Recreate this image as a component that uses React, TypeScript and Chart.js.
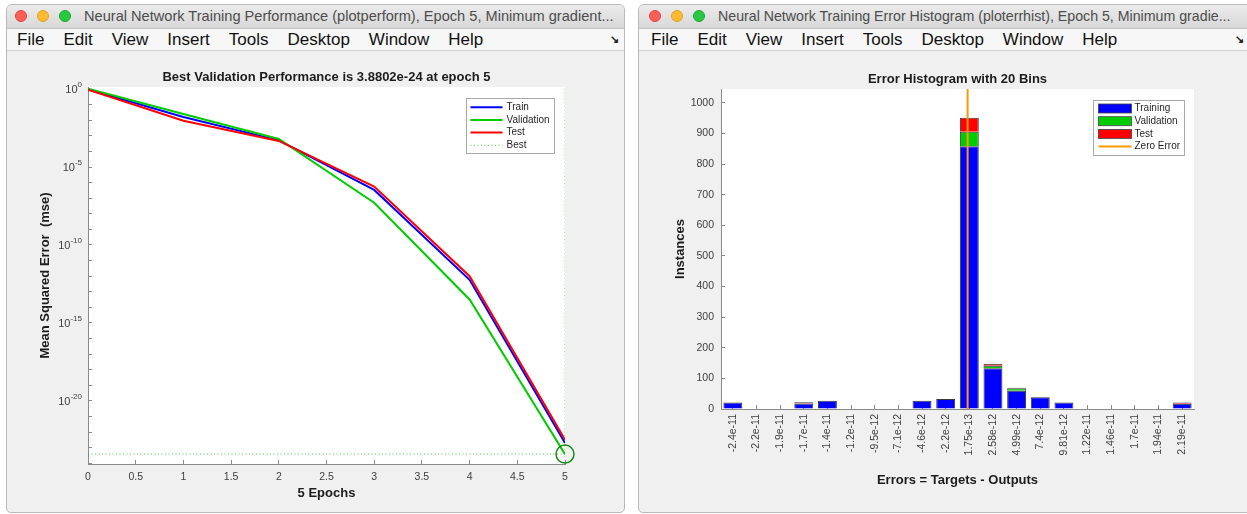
import React, { useEffect, useRef } from "react";
import { Chart, registerables } from "chart.js";

Chart.register(...registerables);

const FONT = '"Liberation Sans", Arial, Helvetica, sans-serif';

// ---------- Performance plot (left) ----------
const epochs = [0, 1, 2, 3, 4, 5];
const trainPerf = [0.93, 1.6e-2, 5.1e-4, 3.4e-7, 5.8e-13, 2.0e-23];
const validationPerf = [1.05, 2.5e-2, 6.3e-4, 5.1e-8, 3.2e-14, 3.8802e-24];
const testPerf = [0.9, 9.3e-3, 4.7e-4, 5.5e-7, 1.0e-12, 3.2e-23];
const bestEpoch = 5;
const bestPerf = 3.8802e-24;
const perfYMin = 9.0e-25;
const perfYMax = 1.35;
const perfXTicks = [0, 0.5, 1, 1.5, 2, 2.5, 3, 3.5, 4, 4.5, 5];
const perfYTickExponents = [0, -1, -2, -3, -4, -5, -6, -7, -8, -9, -10, -11, -12, -13, -14, -15, -16, -17, -18, -19, -20, -21, -22, -23, -24];
const perfYLabelExponents = [0, -5, -10, -15, -20];

// ---------- Error histogram (right) ----------
const binLabels = [
  "-2.4e-11", "-2.2e-11", "-1.9e-11", "-1.7e-11", "-1.4e-11", "-1.2e-11", "-9.5e-12", "-7.1e-12",
  "-4.6e-12", "-2.2e-12", "1.75e-13", "2.58e-12", "4.99e-12", "7.4e-12", "9.81e-12", "1.22e-11",
  "1.46e-11", "1.7e-11", "1.94e-11", "2.19e-11",
];
const binFirstCenter = -2.4e-11;
const binWidth = 2.4175e-12;
const trainingCounts = [21, 0, 0, 18, 27, 0, 0, 0, 27, 33, 858, 133, 60, 38, 21, 0, 0, 0, 0, 17];
const validationCounts = [0, 0, 0, 0, 0, 0, 0, 0, 0, 0, 47, 8, 8, 1, 0, 0, 0, 0, 0, 0];
const testCounts = [0, 0, 0, 4, 0, 0, 0, 0, 0, 0, 46, 7, 1, 0, 0, 0, 0, 0, 0, 4];
const zeroError = 0;
const histYMax = 1045;
const histYTicks = [0, 100, 200, 300, 400, 500, 600, 700, 800, 900, 1000];

type LegendItem = { label: string; kind: "line" | "dotted" | "patch"; color: string };
type LegendBox = {
  right: number; top: number; width: number; height: number;
  rowStart: number; rowStep: number; sampleX: number; sampleW: number; textX: number;
};

const whiteArea = {
  id: "whiteArea",
  beforeDraw(chart: any) {
    const { ctx, chartArea } = chart;
    ctx.save();
    ctx.fillStyle = "#ffffff";
    ctx.fillRect(chartArea.left, chartArea.top, chartArea.right - chartArea.left, chartArea.bottom - chartArea.top);
    ctx.restore();
  },
};

function makeBoxLegend(items: LegendItem[], box: LegendBox) {
  return {
    id: "boxLegend",
    afterDraw(chart: any) {
      const { ctx, chartArea } = chart;
      const x = Math.round(chartArea.right - box.right - box.width) + 0.5;
      const y = Math.round(chartArea.top + box.top) + 0.5;
      ctx.save();
      ctx.fillStyle = "#ffffff";
      ctx.fillRect(x, y, box.width, box.height);
      ctx.strokeStyle = "#a8a8a8";
      ctx.lineWidth = 1;
      ctx.setLineDash([]);
      ctx.strokeRect(x, y, box.width, box.height);
      items.forEach((it, i) => {
        const cy = y + box.rowStart + i * box.rowStep;
        const sx = x + box.sampleX;
        if (it.kind === "patch") {
          ctx.fillStyle = it.color;
          ctx.fillRect(sx, cy - 4.5, box.sampleW, 9);
          ctx.strokeStyle = "#444444";
          ctx.lineWidth = 0.8;
          ctx.strokeRect(sx, cy - 4.5, box.sampleW, 9);
        } else {
          ctx.beginPath();
          ctx.strokeStyle = it.color;
          ctx.lineWidth = it.kind === "dotted" ? 1 : 2;
          ctx.setLineDash(it.kind === "dotted" ? [1, 2.5] : []);
          ctx.moveTo(sx, cy);
          ctx.lineTo(sx + box.sampleW, cy);
          ctx.stroke();
          ctx.setLineDash([]);
        }
        ctx.fillStyle = "#262626";
        ctx.font = `10px ${FONT}`;
        ctx.textBaseline = "middle";
        ctx.textAlign = "left";
        ctx.fillText(it.label, x + box.textX, cy);
      });
      ctx.restore();
    },
  };
}

// Draws "10" with a raised exponent for the labelled decades of the log axis
const powerLabels = {
  id: "powerLabels",
  afterDraw(chart: any) {
    const { ctx } = chart;
    const scale = chart.scales.y;
    const right = scale.right - 6;
    ctx.save();
    ctx.fillStyle = TICKTXT;
    ctx.textBaseline = "middle";
    ctx.textAlign = "right";
    perfYLabelExponents.forEach((e) => {
      const py = scale.getPixelForValue(Math.pow(10, e));
      ctx.font = `8px ${FONT}`;
      const expText = String(e);
      const w = ctx.measureText(expText).width;
      ctx.fillText(expText, right, py - 4.5);
      ctx.font = `11px ${FONT}`;
      ctx.fillText("10", right - w, py + 1);
    });
    ctx.restore();
  },
};

const AXIS = "#8a8a8a";
const TICKTXT = "#404040";
const TITLETXT = "#1c1c1c";
const TITLEFONT = { family: FONT, size: 13, weight: "bold" };

const toXY = (xs: number[], ys: number[]) => xs.map((x, i) => ({ x, y: ys[i] }));

function perfConfig(): any {
  return {
    type: "line",
    data: {
      datasets: [
        {
          label: "Best marker",
          data: [{ x: bestEpoch, y: bestPerf }],
          showLine: false,
          pointRadius: 9,
          pointBorderWidth: 1.5,
          pointBorderColor: "#168a16",
          pointBackgroundColor: "rgba(0,0,0,0)",
          clip: false,
          order: 0,
        },
        { label: "Test", data: toXY(epochs, testPerf), borderColor: "#ff0000", borderWidth: 2, pointRadius: 0, order: 1 },
        { label: "Validation", data: toXY(epochs, validationPerf), borderColor: "#00cc00", borderWidth: 2, pointRadius: 0, order: 2 },
        { label: "Train", data: toXY(epochs, trainPerf), borderColor: "#0000ff", borderWidth: 2, pointRadius: 0, order: 3 },
        {
          label: "Best",
          data: [{ x: epochs[0], y: bestPerf }, { x: epochs[epochs.length - 1], y: bestPerf }],
          borderColor: "rgba(0,190,0,0.7)", borderWidth: 1, borderDash: [1, 2.5], pointRadius: 0, order: 4,
        },
        {
          label: "Best epoch",
          data: [{ x: bestEpoch, y: perfYMin }, { x: bestEpoch, y: perfYMax }],
          borderColor: "rgba(0,190,0,0.7)", borderWidth: 1, borderDash: [1, 2.5], pointRadius: 0, order: 4,
        },
      ],
    },
    options: {
      responsive: false,
      animation: false,
      devicePixelRatio: 1,
      events: [],
      layout: { padding: { left: 0, right: 59, top: 0, bottom: 0 } },
      plugins: {
        legend: { display: false },
        tooltip: { enabled: false },
        title: {
          display: true,
          text: "Best Validation Performance is 3.8802e-24 at epoch 5",
          fullSize: false,
          color: TITLETXT,
          font: TITLEFONT,
          padding: { top: 18.2, bottom: 2.2 },
        },
      },
      scales: {
        x: {
          type: "linear",
          min: epochs[0],
          max: epochs[epochs.length - 1],
          afterBuildTicks: (s: any) => { s.ticks = perfXTicks.map((v) => ({ value: v })); },
          afterFit: (s: any) => { s.height = 48; },
          ticks: {
            autoSkip: false, maxRotation: 0, padding: 10.7, color: TICKTXT,
            font: { family: FONT, size: 10.5 },
            callback: (v: any) => String(v),
          },
          grid: { drawOnChartArea: false, tickLength: -4, color: AXIS },
          border: { color: AXIS, width: 1 },
          title: {
            display: true, text: "5 Epochs", color: TITLETXT, font: TITLEFONT,
            padding: { top: 0, bottom: 11.2 },
          },
        },
        y: {
          type: "logarithmic",
          min: perfYMin,
          max: perfYMax,
          afterBuildTicks: (s: any) => { s.ticks = perfYTickExponents.map((e) => ({ value: Math.pow(10, e) })); },
          afterFit: (s: any) => { s.width = 81; },
          ticks: {
            autoSkip: false, padding: 10, color: TICKTXT,
            font: { family: FONT, size: 10.5 },
            callback: () => "",
          },
          grid: { drawOnChartArea: false, tickLength: -4, color: AXIS },
          border: { color: AXIS, width: 1 },
          title: {
            display: true, text: "Mean Squared Error  (mse)", color: TITLETXT, font: TITLEFONT,
            padding: { top: 30.2, bottom: 0 },
          },
        },
      },
    },
    plugins: [
      whiteArea,
      powerLabels,
      makeBoxLegend(
        [
          { label: "Train", kind: "line", color: "#0000ff" },
          { label: "Validation", kind: "line", color: "#00cc00" },
          { label: "Test", kind: "line", color: "#ff0000" },
          { label: "Best", kind: "dotted", color: "rgba(0,190,0,0.7)" },
        ],
        { right: 11, top: 11, width: 88, height: 55, rowStart: 8.7, rowStep: 12.7, sampleX: 4, sampleW: 32, textX: 40 }
      ),
    ],
  };
}

const binCenters = binLabels.map((_, i) => binFirstCenter + i * binWidth);

function histConfig(): any {
  const barCommon = { borderColor: "#3a3a3a", borderWidth: 1, barPercentage: 0.8, categoryPercentage: 1 };
  return {
    type: "bar",
    data: {
      datasets: [
        {
          type: "line", label: "Zero Error", stack: "zero",
          data: [{ x: zeroError, y: 0 }, { x: zeroError, y: histYMax }],
          borderColor: "#ff9900", borderWidth: 2, pointRadius: 0, order: 0,
        },
        { label: "Training", data: toXY(binCenters, trainingCounts), backgroundColor: "#0000ff", order: 1, ...barCommon },
        { label: "Validation", data: toXY(binCenters, validationCounts), backgroundColor: "#00cc00", order: 2, ...barCommon },
        { label: "Test", data: toXY(binCenters, testCounts), backgroundColor: "#ff0000", order: 3, ...barCommon },
      ],
    },
    options: {
      responsive: false,
      animation: false,
      devicePixelRatio: 1,
      events: [],
      layout: { padding: { left: 0, right: 53, top: 0, bottom: 0 } },
      plugins: {
        legend: { display: false },
        tooltip: { enabled: false },
        title: {
          display: true,
          text: "Error Histogram with 20 Bins",
          fullSize: false,
          color: TITLETXT,
          font: TITLEFONT,
          padding: { top: 20.2, bottom: 2.2 },
        },
      },
      scales: {
        x: {
          type: "linear",
          stacked: true,
          offset: false,
          min: binFirstCenter - binWidth / 2,
          max: binFirstCenter + (binLabels.length - 0.5) * binWidth,
          afterBuildTicks: (s: any) => { s.ticks = binCenters.map((v) => ({ value: v })); },
          afterFit: (s: any) => { s.height = 103; },
          ticks: {
            autoSkip: false, minRotation: 90, maxRotation: 90, padding: 9, color: TICKTXT,
            font: { family: FONT, size: 10.5 },
            callback: (_v: any, i: number) => binLabels[i],
          },
          grid: { drawOnChartArea: false, offset: false, tickLength: -4, color: AXIS },
          border: { color: AXIS, width: 1 },
          title: {
            display: true, text: "Errors = Targets - Outputs", color: TITLETXT, font: TITLEFONT,
            padding: { top: 0, bottom: 24.2 },
          },
        },
        y: {
          type: "linear",
          stacked: true,
          min: 0,
          max: histYMax,
          afterBuildTicks: (s: any) => { s.ticks = histYTicks.map((v) => ({ value: v })); },
          afterFit: (s: any) => { s.width = 82; },
          ticks: {
            autoSkip: false, padding: 11, color: TICKTXT,
            font: { family: FONT, size: 10.5 },
            callback: (v: any) => String(v),
          },
          grid: { drawOnChartArea: false, tickLength: -4, color: AXIS },
          border: { color: AXIS, width: 1 },
          title: {
            display: true, text: "Instances", color: TITLETXT, font: TITLEFONT,
            padding: { top: 33.2, bottom: 0 },
          },
        },
      },
    },
    plugins: [
      whiteArea,
      makeBoxLegend(
        [
          { label: "Training", kind: "patch", color: "#0000ff" },
          { label: "Validation", kind: "patch", color: "#00cc00" },
          { label: "Test", kind: "patch", color: "#ff0000" },
          { label: "Zero Error", kind: "line", color: "#ff9900" },
        ],
        { right: 10, top: 11, width: 91, height: 55, rowStart: 8, rowStep: 12.7, sampleX: 5, sampleW: 33, textX: 41 }
      ),
    ],
  };
}

function ChartCanvas({ make, width, height, left, top }: { make: () => any; width: number; height: number; left: number; top: number }) {
  const ref = useRef<HTMLCanvasElement>(null);
  useEffect(() => {
    const chart = new Chart(ref.current as HTMLCanvasElement, make());
    return () => chart.destroy();
  }, []);
  return (
    <canvas
      ref={ref}
      width={width}
      height={height}
      style={{ position: "absolute", left, top, width, height, display: "block" }}
    />
  );
}

const MENU = ["File", "Edit", "View", "Insert", "Tools", "Desktop", "Window", "Help"];

function MacWindow(props: {
  left: number; width: number; title: string; titleLeft: number; titleSize: number; lightsLeft: number;
  menuLeft: number; iconLeft: number; children: any;
}) {
  const { left, width, title, titleLeft, titleSize, lightsLeft, menuLeft, iconLeft, children } = props;
  const lights = ["#fe5f57", "#febc2e", "#28c840"];
  const lightBorder = ["#e0443e", "#dea123", "#1aab29"];
  return (
    <div
      style={{
        position: "absolute", left, top: 4, width, height: 509, boxSizing: "border-box",
        border: "1px solid #b9b9b9", borderRadius: "6px 6px 5px 5px", overflow: "hidden",
        background: "#f0f0f0", fontFamily: FONT,
      }}
    >
      <div
        style={{
          position: "absolute", left: 0, top: 0, right: 0, height: 23,
          background: "linear-gradient(#ebebeb, #d8d8d8)", borderBottom: "1px solid #c2c2c2",
        }}
      >
        {lights.map((c, i) => (
          <div
            key={i}
            style={{
              position: "absolute", left: lightsLeft + i * 22 - 6, top: 5, width: 12, height: 12,
              borderRadius: "50%", background: c, boxSizing: "border-box", border: `0.5px solid ${lightBorder[i]}`,
            }}
          />
        ))}
        <div
          style={{
            position: "absolute", left: titleLeft, top: 0, height: 23, lineHeight: "23px",
            fontSize: titleSize, color: "#4d4d4d", whiteSpace: "nowrap",
          }}
        >
          {title}
        </div>
      </div>
      <div
        style={{
          position: "absolute", left: 0, right: 0, top: 24, height: 21, background: "#f7f7f7",
          borderBottom: "1px solid #d2d2d2",
        }}
      >
        <div
          style={{
            position: "absolute", left: menuLeft, top: 0, height: 21, lineHeight: "21px",
            display: "flex", gap: 19, fontSize: 17, color: "#111111", whiteSpace: "nowrap",
          }}
        >
          {MENU.map((m) => (
            <span key={m}>{m}</span>
          ))}
        </div>
        <div
          style={{
            position: "absolute", left: iconLeft, top: 0, height: 21, lineHeight: "21px",
            fontSize: 11, fontWeight: "bold", color: "#222",
          }}
        >
          ↘
        </div>
      </div>
      {children}
    </div>
  );
}

export default function App() {
  return (
    <div
      style={{
        position: "absolute", left: 0, top: 0, width: 1247, height: 514, overflow: "hidden",
        background: "#ffffff",
      }}
    >
      <MacWindow
        left={6}
        width={619}
        title="Neural Network Training Performance (plotperform), Epoch 5, Minimum gradient..."
        titleLeft={77}
        titleSize={14.6}
        lightsLeft={14}
        menuLeft={10}
        iconLeft={603}
      >
        <ChartCanvas make={perfConfig} width={617} height={461} left={0} top={46} />
      </MacWindow>
      <MacWindow
        left={638}
        width={622}
        title="Neural Network Training Error Histogram (ploterrhist), Epoch 5, Minimum gradie..."
        titleLeft={79}
        titleSize={14.2}
        lightsLeft={16}
        menuLeft={12}
        iconLeft={596}
      >
        <ChartCanvas make={histConfig} width={608} height={461} left={0} top={46} />
      </MacWindow>
    </div>
  );
}
